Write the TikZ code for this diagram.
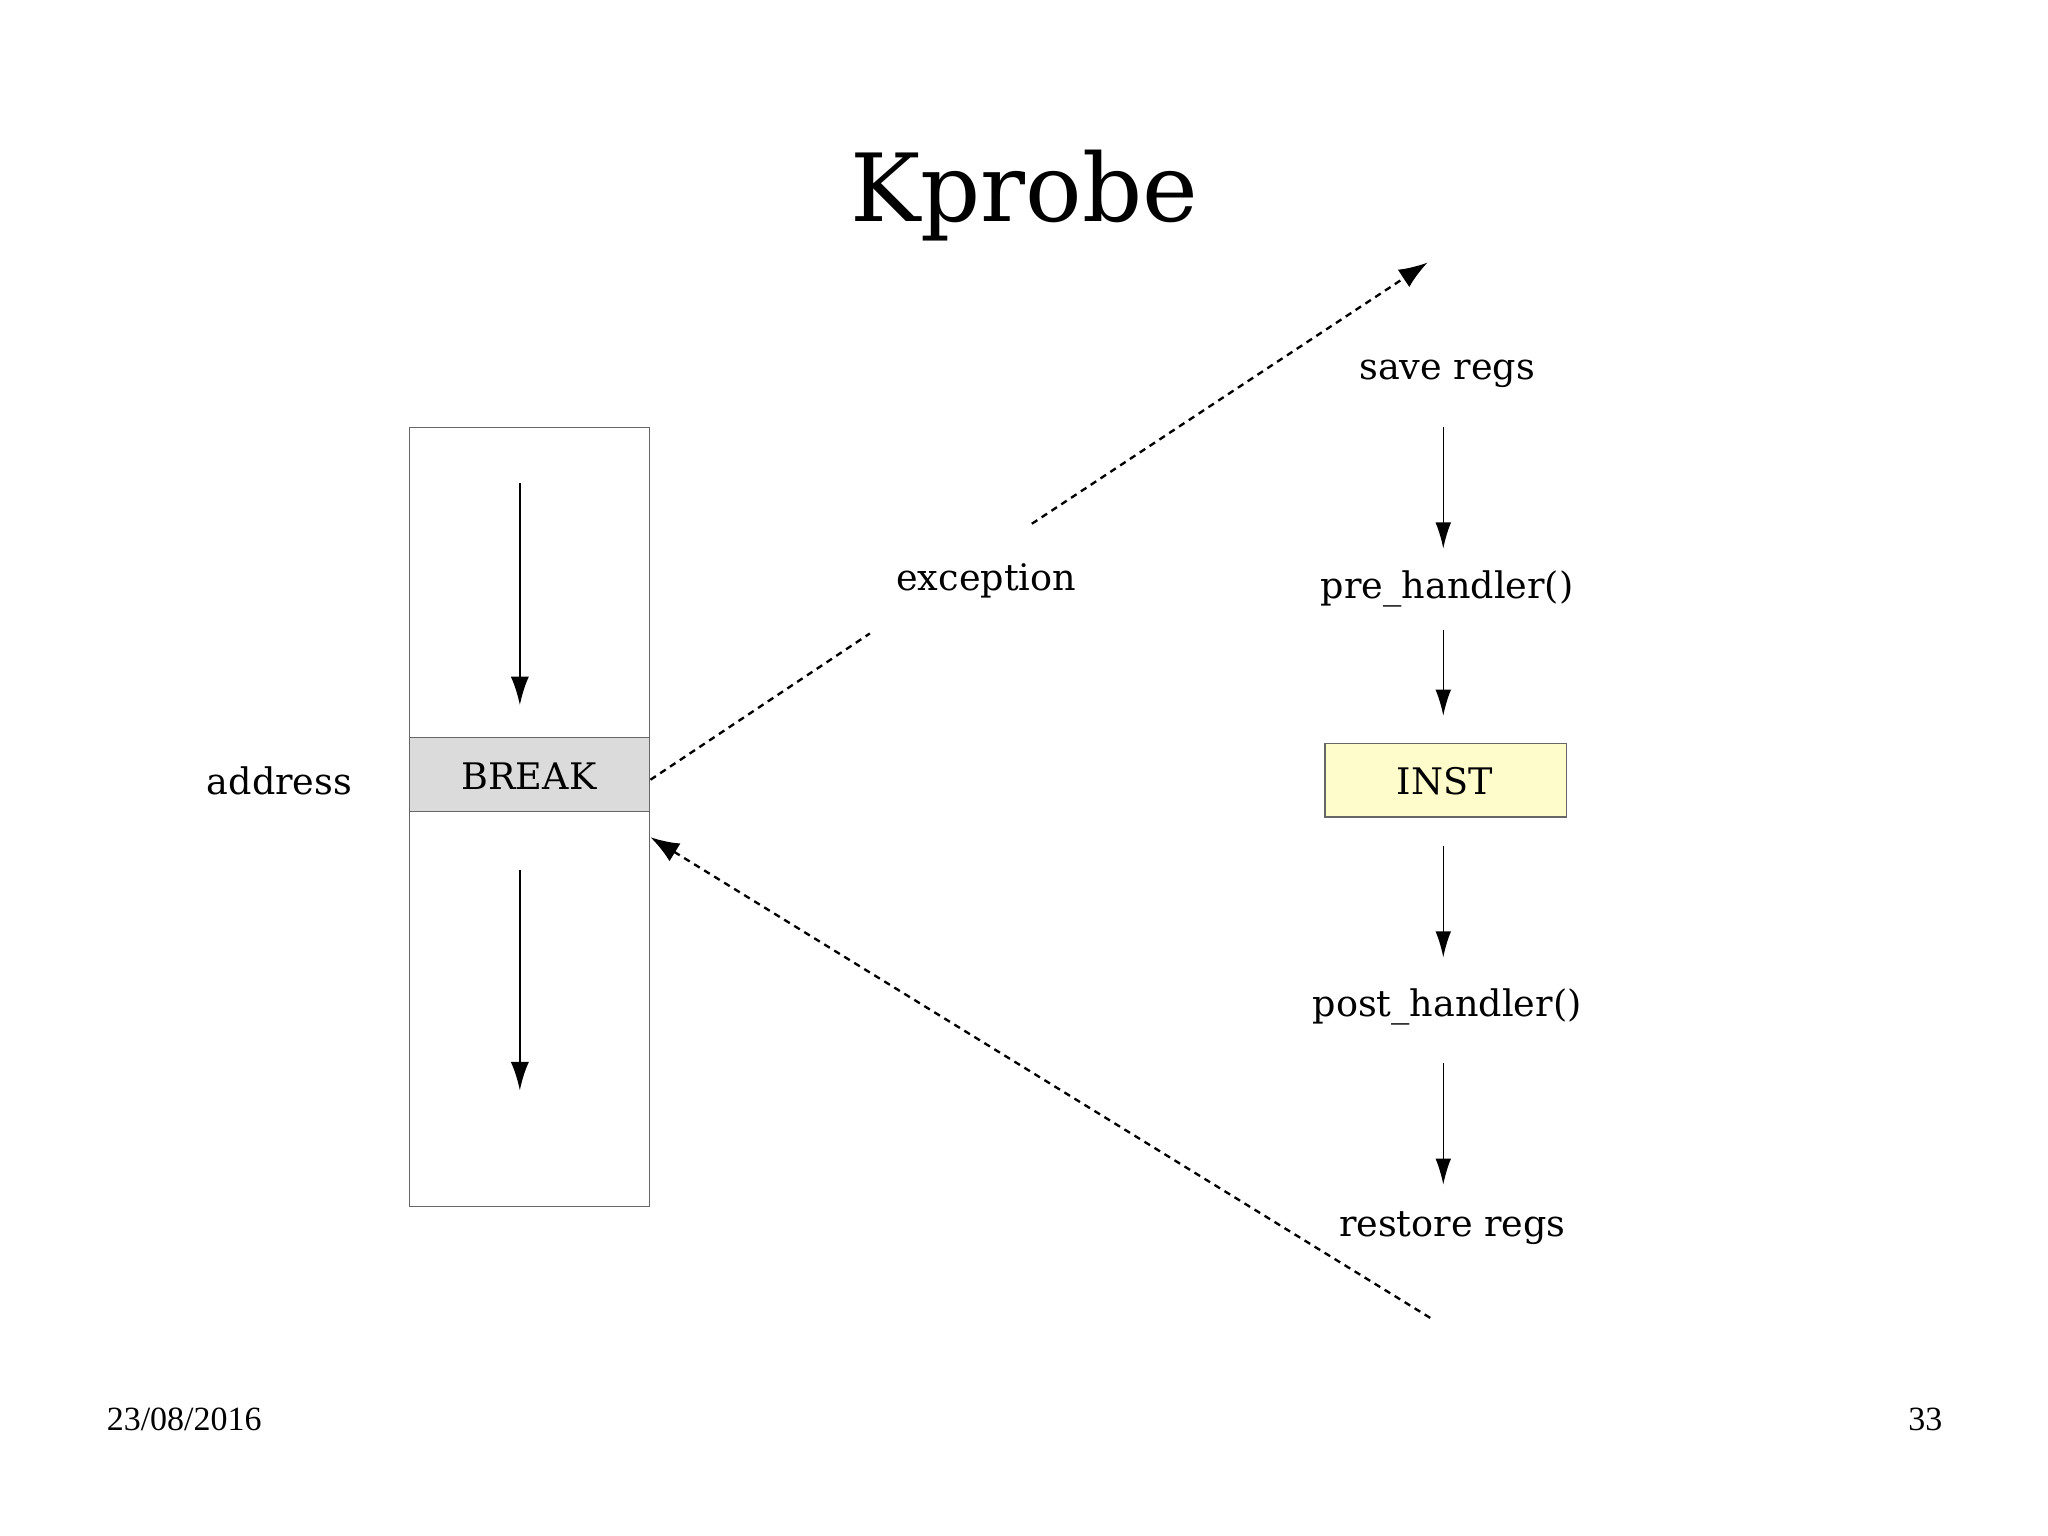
\documentclass[tikz,border=0pt]{standalone}
\usepackage{fontspec}
\setmainfont{DejaVu Serif}
\newfontfamily\footfont{Liberation Serif}
\usetikzlibrary{arrows.meta}
\begin{document}
\begin{tikzpicture}[x=0.5pt,y=-0.5pt,
  lbl/.style={font=\fontsize{14}{16}\selectfont, inner sep=0pt},
  flow/.style={line width=0.6pt,-{Latex[length=10pt,width=6pt]}},
  bigflow/.style={line width=1pt,-{Latex[length=11pt,width=7pt]}},
  dots/.style={line width=0.9pt,dash pattern=on 2.5pt off 2pt},
  box/.style={draw=gray!80!black, line width=0.5pt}]
\useasboundingbox (0,0) rectangle (1568,1176);
\node[font=\fontsize{36}{40}\selectfont] (title) at (784,150) {Kprobe};
\node[box, minimum width=92pt, minimum height=298pt, anchor=north west] (col) at (313,327) {};
\node[box, fill=gray!28, minimum width=92pt, minimum height=28.5pt, anchor=north west, lbl] (brk) at (313,564) {};
\node[lbl] (brkt) at (405,594) {BREAK};
\node[lbl] (addr) at (214,598) {address};
\coordinate (a1s) at (398,370); \coordinate (a1e) at (398,540);
\coordinate (a2s) at (398,666); \coordinate (a2e) at (398,835);
\draw[bigflow] (a1s) -- (a1e);
\draw[bigflow] (a2s) -- (a2e);
\node[lbl] (save) at (1108,286) {save regs};
\node[lbl] (pre) at (1108,451) {pre\_handler()};
\node[box, fill=yellow!20, minimum width=92.5pt, minimum height=28pt, anchor=north west] (inst) at (1014,569) {};
\node[lbl] (instt) at (1106,598) {INST};
\node[lbl] (post) at (1108,771) {post\_handler()};
\node[lbl] (rest) at (1112,940) {restore regs};
\coordinate (f1s) at (1105,327); \coordinate (f1e) at (1105,420);
\coordinate (f2s) at (1105,482); \coordinate (f2e) at (1105,548);
\coordinate (f3s) at (1105,648); \coordinate (f3e) at (1105,733);
\coordinate (f4s) at (1105,814); \coordinate (f4e) at (1105,907);
\foreach \i in {1,2,3,4} \draw[flow] (f\i s) -- (f\i e);
\node[lbl] (exc) at (755,445) {exception};
\coordinate (e0) at (498,597); \coordinate (e1) at (666,485);
\coordinate (e2) at (790,401); \coordinate (e3) at (1093,201);
\draw[dots] (e0) -- (e1);
\draw[dots,-{Latex[length=11pt,width=8pt]}] (e2) -- (e3);
\coordinate (r0) at (1095,1009); \coordinate (r1) at (498,641);
\draw[dots,-{Latex[length=11pt,width=8pt]}] (r0) -- (r1);
\node[font=\footfont\fontsize{13}{15}\selectfont] (date) at (141,1087) {23/08/2016};
\node[font=\footfont\fontsize{13}{15}\selectfont] (pg) at (1474,1087) {33};
\end{tikzpicture}
\end{document}
